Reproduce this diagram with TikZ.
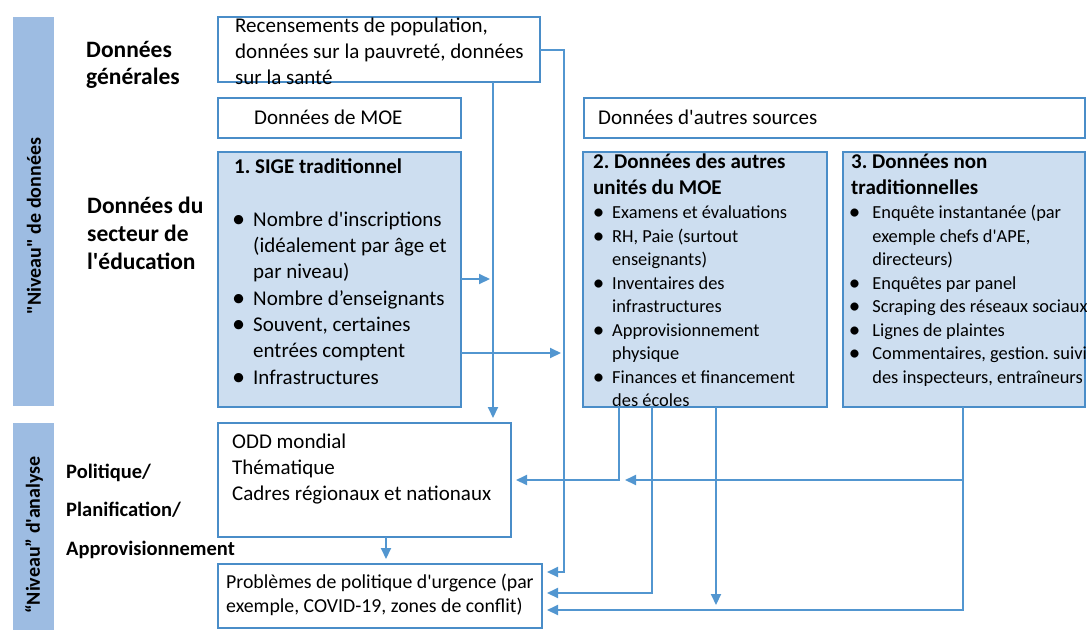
\documentclass[tikz,border=0pt]{standalone}
\usepackage{fontspec}
\defaultfontfeatures[\rmfamily]{Scale=1.0}
\setmainfont{Carlito}
\usepackage{graphicx}
\usepackage{tikz}
\usetikzlibrary{arrows.meta}
\frenchspacing
\definecolor{boxline}{RGB}{74,141,200}
\definecolor{flowline}{RGB}{82,150,208}
\definecolor{boxfill}{RGB}{205,222,240}
\definecolor{bandfill}{RGB}{157,188,226}
\tikzstyle{plainbox}=[rectangle, draw=boxline, line width=2.4pt, fill=white, anchor=north west, inner sep=0pt, outer sep=0pt]
\tikzstyle{databox}=[plainbox, fill=boxfill]
\tikzstyle{band}=[rectangle, fill=bandfill, anchor=north west, inner sep=0pt, outer sep=0pt]
\tikzstyle{bandtext}=[rotate=90, inner sep=0pt, font=\bfseries\fontsize{20}{24}\selectfont]
\tikzstyle{boxtext}=[anchor=north west, inner sep=0pt, align=left, font=\fontsize{21}{26}\selectfont]
\tikzstyle{listtext}=[boxtext, font=\fontsize{18.4}{23.5}\selectfont]
\tikzstyle{rowlabel}=[boxtext, font=\bfseries\fontsize{23.5}{27}\selectfont]
\tikzstyle{flow}=[draw=flowline, line width=2pt]
\tikzstyle{flowarrow}=[flow, -{Triangle[length=11pt,width=10pt]}, shorten >=5pt]
\newcommand{\plainblock}[4]{
	\node[plainbox, minimum width=#3, minimum height=#4] (#1) at (#2) {};}
\newcommand{\datablock}[4]{
	\node[databox, minimum width=#3, minimum height=#4] (#1) at (#2) {};}
\newcommand{\itm}[1][19pt]{\hspace*{#1}\llap{\raisebox{-0.05em}{\scalebox{1.25}{\textbullet}}\hspace{8pt}}}
\newcommand{\cnt}[1][19pt]{\hspace*{#1}}

\begin{document}
\frenchspacing
\begin{tikzpicture}[x=1pt, y=-1pt]
	\useasboundingbox (0,0) rectangle (1087,630);

	\node[band, minimum width=41pt, minimum height=389pt] (databand) at (13,17) {};
	\node[band, minimum width=41pt, minimum height=207pt] (analysisband) at (13,423) {};
	\node[bandtext] (databandlabel) at (34,226) {"Niveau" de données};
	\node[bandtext] (analysisbandlabel) at (34,535) {“Niveau” d'analyse};

	\node[rowlabel] (general) at (86,38) {\strut Données\\générales};
	\node[rowlabel, font=\bfseries\fontsize{23.5}{28}\selectfont] (sector) at (87,194) {\strut Données du\\secteur de\\l'éducation};
	\node[rowlabel, font=\bfseries\fontsize{20.5}{38.5}\selectfont] (policy) at (66,451) {\strut Politique/\\Planification/\\Approvisionnement};

	\plainblock{census}{218,17}{322pt}{65pt}
	\plainblock{moe}{218,98}{243pt}{40pt}
	\plainblock{sources}{584,98}{501pt}{40pt}
	\datablock{sige}{218,152}{243pt}{255pt}
	\datablock{other}{583,152}{244pt}{255pt}
	\datablock{nontrad}{843,152}{242pt}{255pt}
	\plainblock{odd}{218,423}{293pt}{114pt}
	\plainblock{urgent}{218,564}{324pt}{64pt}

	\node[boxtext] (censustext) at (235,14) {\strut Recensements de population,\\données sur la pauvreté, données\\sur la santé};
	\node[boxtext] (moetext) at (254,106) {\strut Données de MOE};
	\node[boxtext] (sourcestext) at (598,106) {\strut Données d'autres sources};
	\node[boxtext, font=\fontsize{21}{26.3}\selectfont] (sigetext) at (234,155) {\strut\textbf{1. SIGE traditionnel}\\[26.3pt]
		\itm Nombre d'inscriptions\\ \cnt (idéalement par âge et\\ \cnt par niveau)\\
		\itm Nombre d’enseignants\\ \itm Souvent, certaines\\ \cnt entrées comptent\\ \itm Infrastructures};
	\node[boxtext, font=\bfseries\fontsize{21}{26}\selectfont] (othertitle) at (593,150) {\strut 2. Données des autres\\unités du MOE};
	\node[listtext] (otherlist) at (593,202) {\strut\itm Examens et évaluations\\ \itm RH, Paie (surtout\\ \cnt enseignants)\\
		\itm Inventaires des\\ \cnt infrastructures\\ \itm Approvisionnement\\ \cnt physique\\
		\itm Finances et financement\\ \cnt des écoles};
	\node[boxtext, font=\bfseries\fontsize{21}{26}\selectfont] (nontradtitle) at (851,150) {\strut 3. Données non\\traditionnelles};
	\node[listtext] (nontradlist) at (851,202) {\strut\itm[17pt] Enquête instantanée (par\\ \cnt[17pt] exemple chefs d'APE,\\ \cnt[17pt] directeurs)\\
		\itm[17pt] Enquêtes par panel\\ \itm[17pt] Scraping des réseaux sociaux\\ \itm[17pt] Lignes de plaintes\\
		\itm[17pt] Commentaires, gestion. suivi\\ \cnt[17pt] des inspecteurs, entraîneurs};
	\node[boxtext] (oddtext) at (232,430) {\strut ODD mondial\\Thématique\\Cadres régionaux et nationaux};
	\node[boxtext, font=\fontsize{19.8}{24}\selectfont] (urgenttext) at (226,571) {\strut Problèmes de politique d'urgence (par\\exemple, COVID-19, zones de conflit)};

	\coordinate (colA) at (493,0);
	\coordinate (rowA) at (0,279);
	\coordinate (rowB) at (0,353);
	\coordinate (bendB) at (564,572);
	\coordinate (bendC) at (619,480);
	\coordinate (bendD) at (652,593);
	\coordinate (colE) at (716,0);
	\coordinate (bendF) at (963,480);
	\coordinate (cornerF) at (963,610);
	\coordinate (colO) at (386,0);

	\draw[flowarrow] (census.south -| colA) -- (odd.north -| colA);
	\draw[flowarrow] (census.east) -| (bendB) -- (urgent.east |- bendB);
	\draw[flowarrow, shorten >=3pt] (sige.east |- rowA) -- (colA |- rowA);
	\draw[flowarrow, shorten >=3pt] (sige.east |- rowB) -- (bendB |- rowB);
	\draw[flowarrow] (other.south -| bendC) |- (odd.east |- bendC);
	\draw[flowarrow] (other.south -| bendD) |- (urgent.east |- bendD);
	\draw[flowarrow] (other.south -| colE) -- (colE |- cornerF);
	\draw[flowarrow] (nontrad.south -| bendF) |- (urgent.east |- cornerF);
	\draw[flowarrow, shorten >=6pt] (bendF) -- (bendC);
	\draw[flowarrow] (odd.south -| colO) -- (urgent.north -| colO);
\end{tikzpicture}
\end{document}
